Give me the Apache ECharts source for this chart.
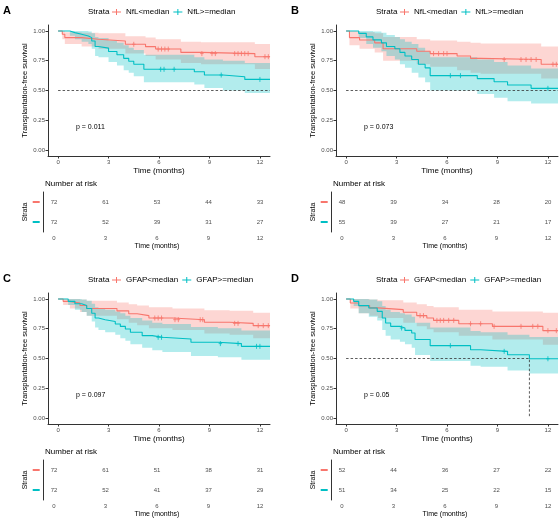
<!DOCTYPE html>
<html>
<head>
<meta charset="utf-8">
<script src="https://cdn.jsdelivr.net/npm/echarts@6/dist/echarts.min.js"></script>
<style>
  html, body { margin: 0; padding: 0; background: #fff; }
  #main { width: 560px; height: 520px; }
</style>
</head>
<body>
<div id="main"></div>
<script>
var RED = '#F8766D', CYAN = '#00BFC4';
var timeTicks = [0, 3, 6, 9, 12];
var survTicks = [0, 0.25, 0.5, 0.75, 1];
var followUp = 12.6;
var nflLabels = ['NfL<median', 'NfL>=median'];
var gfapLabels = ['GFAP<median', 'GFAP>=median'];

// rows: [time, survival, lower CI, upper CI]
var aRed = [[0,1,1,1],[0.25,0.972,0.93,1],[0.4,0.944,0.89,0.99],[1.4,0.93,0.87,0.985],[2.4,0.916,0.85,0.98],
  [4.0,0.888,0.81,0.955],[5.2,0.868,0.79,0.945],[5.8,0.848,0.76,0.93],[7.3,0.82,0.73,0.91],[8.5,0.81,0.72,0.905],[11.7,0.784,0.68,0.89]];
var aCyan = [[0,1,1,1],[0.7,0.986,0.96,1],[1.0,0.972,0.93,1],[1.4,0.958,0.91,1],[1.8,0.944,0.89,0.995],[2.0,0.916,0.85,0.98],
  [2.2,0.87,0.79,0.95],[2.4,0.856,0.78,0.94],[3.0,0.828,0.74,0.92],[3.5,0.80,0.71,0.90],[3.9,0.77,0.67,0.88],[4.2,0.745,0.65,0.86],
  [4.5,0.72,0.62,0.84],[5.1,0.678,0.57,0.80],[8.1,0.658,0.55,0.78],[8.7,0.63,0.52,0.76],[9.8,0.616,0.50,0.75],[11.1,0.593,0.48,0.73]];
var aRedCens = [4.5, 5.95, 6.15, 6.35, 6.55, 8.55, 9.15, 9.35, 10.5, 10.7, 10.9, 11.1, 11.3, 12.3, 12.5];
var aCyanCens = [6.1, 6.3, 6.9, 9.7, 12.0];
var aRisk = [[72, 61, 53, 44, 33], [72, 52, 39, 31, 27]];
var aMedian = [[0, 0.5], [12.6, 0.5]];

var bRed = [[0,1,1,1],[0.2,0.944,0.88,1],[0.8,0.924,0.85,0.99],[1.7,0.90,0.82,0.98],[2.2,0.85,0.75,0.95],
  [4.2,0.83,0.72,0.93],[5.0,0.81,0.70,0.92],[6.6,0.79,0.67,0.91],[7.4,0.77,0.65,0.90],[8.0,0.76,0.64,0.895],[11.6,0.72,0.60,0.87]];
var bCyan = [[0,1,1,1],[0.75,0.98,0.94,1],[1.2,0.95,0.89,1],[1.6,0.925,0.86,0.995],[2.1,0.90,0.83,0.985],[2.4,0.87,0.79,0.965],
  [2.9,0.85,0.76,0.95],[3.2,0.82,0.72,0.93],[3.5,0.79,0.69,0.91],[3.9,0.76,0.65,0.89],[4.3,0.72,0.61,0.86],[4.7,0.69,0.57,0.83],
  [5.0,0.625,0.50,0.78],[7.8,0.60,0.47,0.76],[8.8,0.574,0.44,0.74],[9.6,0.546,0.41,0.71],[11.0,0.518,0.39,0.685]];
var bRedCens = [5.2, 5.5, 5.8, 6.0, 9.4, 10.4, 10.7, 11.0, 11.3, 12.3, 12.5];
var bCyanCens = [6.2, 6.8, 12.0];
var bRisk = [[48, 39, 34, 28, 20], [55, 39, 27, 21, 17]];
var bMedian = [[0, 0.5], [12.6, 0.5]];

var cRed = [[0,1,1,1],[0.3,0.98,0.95,1],[0.7,0.965,0.92,1],[1.3,0.945,0.89,0.995],[1.7,0.92,0.86,0.985],[3.5,0.90,0.83,0.97],
  [4.2,0.876,0.80,0.955],[4.7,0.86,0.78,0.945],[5.4,0.84,0.755,0.93],[6.8,0.826,0.74,0.92],[8.7,0.805,0.71,0.905],
  [10.2,0.795,0.70,0.90],[11.6,0.776,0.67,0.885]];
var cCyan = [[0,1,1,1],[0.6,0.98,0.95,1],[1.0,0.96,0.91,1],[1.4,0.945,0.89,0.995],[1.7,0.92,0.86,0.985],[2.0,0.88,0.81,0.96],
  [2.2,0.84,0.76,0.93],[2.4,0.826,0.74,0.92],[2.8,0.81,0.72,0.91],[3.4,0.79,0.70,0.895],[3.7,0.77,0.67,0.88],[4.0,0.748,0.65,0.86],
  [4.3,0.72,0.62,0.84],[5.0,0.692,0.59,0.82],[5.6,0.678,0.57,0.80],[6.2,0.664,0.555,0.79],[7.9,0.636,0.52,0.765],
  [9.5,0.625,0.51,0.755],[10.9,0.602,0.49,0.735]];
var cRedCens = [5.75, 5.95, 6.15, 6.95, 7.15, 8.45, 8.6, 10.5, 10.7, 11.9, 12.2, 12.5];
var cCyanCens = [5.95, 6.15, 9.65, 10.7, 11.8, 12.0];
var cRisk = [[72, 61, 51, 38, 31], [72, 52, 41, 37, 29]];
var cMedian = [];

var dRed = [[0,1,1,1],[0.25,0.966,0.92,1],[0.75,0.944,0.88,1],[1.4,0.925,0.86,0.995],[1.9,0.91,0.84,0.99],[3.4,0.888,0.80,0.97],
  [4.2,0.86,0.77,0.955],[4.8,0.84,0.745,0.94],[5.2,0.82,0.72,0.93],[6.7,0.792,0.69,0.91],[8.7,0.77,0.66,0.895],[11.7,0.734,0.615,0.885]];
var dCyan = [[0,1,1,1],[0.45,0.98,0.94,1],[0.75,0.944,0.88,1],[1.35,0.924,0.85,0.995],[1.85,0.896,0.82,0.98],[2.15,0.84,0.74,0.94],
  [2.35,0.798,0.69,0.91],[2.65,0.77,0.66,0.89],[3.2,0.756,0.64,0.88],[3.5,0.736,0.62,0.87],[3.9,0.714,0.59,0.85],[4.1,0.66,0.53,0.80],
  [5.0,0.608,0.48,0.76],[7.4,0.574,0.44,0.73],[8.0,0.56,0.43,0.72],[9.6,0.532,0.40,0.70],[10.9,0.498,0.375,0.68]];
var dRedCens = [4.4, 4.6, 5.4, 5.6, 5.8, 6.1, 6.4, 7.4, 8.0, 8.8, 10.4, 11.1, 11.4, 12.0, 12.5];
var dCyanCens = [3.3, 6.2, 9.4, 12.0];
var dRisk = [[52, 44, 36, 27, 22], [51, 34, 25, 22, 15]];
var dMedian = [[0, 0.5], [10.9, 0.5], [10.9, 0]];

var panels = [
  { letter: 'A', red: aRed, cyan: aCyan, cens: [aRedCens, aCyanCens], risk: aRisk, median: aMedian, labels: nflLabels, pval: 'p = 0.011', dx: 0, dy: 0 },
  { letter: 'B', red: bRed, cyan: bCyan, cens: [bRedCens, bCyanCens], risk: bRisk, median: bMedian, labels: nflLabels, pval: 'p = 0.073', dx: 288, dy: 0 },
  { letter: 'C', red: cRed, cyan: cCyan, cens: [cRedCens, cCyanCens], risk: cRisk, median: cMedian, labels: gfapLabels, pval: 'p = 0.097', dx: 0, dy: 268 },
  { letter: 'D', red: dRed, cyan: dCyan, cens: [dRedCens, dCyanCens], risk: dRisk, median: dMedian, labels: gfapLabels, pval: 'p = 0.05', dx: 288, dy: 268 }
];

var FONT = 'Liberation Sans, Arial, sans-serif';
var AXIS_COL = '#333';
var TICK_COL = '#4d4d4d';
var legendIcon = 'path://M0,3 L9,3 L9,4 L0,4 Z M4,0.5 L5,0.5 L5,6.5 L4,6.5 Z';
var censSymbol = 'path://M2,0 L2,6 M0,3 L4,3';

function survAt(rows, t) {
  var s = rows[0][1];
  rows.forEach(function (r) { if (r[0] <= t) s = r[1]; });
  return s;
}
function stepData(rows, f) {
  var d = rows.map(function (r) { return [r[0], f(r)]; });
  d.push([followUp, f(rows[rows.length - 1])]);
  return d;
}
// confidence ribbon as one stepped polygon, placed through the axis scales
function ribbon(rows, col, gi) {
  return {
    type: 'custom', xAxisIndex: gi, yAxisIndex: gi, silent: true, z: 1,
    data: [[0, 1]],
    renderItem: function (params, api) {
      var pts = [], i, x0, x1;
      for (i = 0; i < rows.length; i++) {
        x0 = rows[i][0]; x1 = i + 1 < rows.length ? rows[i + 1][0] : followUp;
        pts.push(api.coord([x0, rows[i][3]]), api.coord([x1, rows[i][3]]));
      }
      for (i = rows.length - 1; i >= 0; i--) {
        x0 = rows[i][0]; x1 = i + 1 < rows.length ? rows[i + 1][0] : followUp;
        pts.push(api.coord([x1, rows[i][2]]), api.coord([x0, rows[i][2]]));
      }
      return { type: 'polygon', shape: { points: pts }, style: { fill: col, opacity: 0.3 } };
    }
  };
}

var option = {
  animation: false,
  backgroundColor: '#fff',
  textStyle: { fontFamily: FONT },
  grid: [], xAxis: [], yAxis: [], series: [], legend: [], title: []
};

panels.forEach(function (p, i) {
  var gp = 2 * i, gt = 2 * i + 1;
  option.grid.push({ left: 48 + p.dx, top: 25 + p.dy, width: 222, height: 131 });
  option.grid.push({ left: 43.7 + p.dx, top: 192 + p.dy, width: 226.6, height: 40 });

  option.xAxis.push({
    type: 'value', gridIndex: gp, min: -0.6, max: 12.6,
    axisLine: { onZero: false, lineStyle: { color: AXIS_COL, width: 1 } },
    axisTick: { customValues: timeTicks, length: 2.5, lineStyle: { color: AXIS_COL } },
    axisLabel: { customValues: timeTicks, fontSize: 6, color: TICK_COL, margin: 3, fontFamily: FONT },
    splitLine: { show: false },
    name: 'Time (months)', nameLocation: 'middle', nameGap: 11,
    nameTextStyle: { fontSize: 8, color: '#000', fontFamily: FONT }
  });
  option.yAxis.push({
    type: 'value', gridIndex: gp, min: -0.05, max: 1.05,
    axisLine: { show: true, onZero: false, lineStyle: { color: AXIS_COL, width: 1 } },
    axisTick: { show: true, customValues: survTicks, length: 2.5, lineStyle: { color: AXIS_COL } },
    axisLabel: { customValues: survTicks, fontSize: 6, color: TICK_COL, margin: 3, fontFamily: FONT,
      formatter: function (v) { return v.toFixed(2); } },
    splitLine: { show: false },
    name: 'Transplantation-free survival', nameLocation: 'middle', nameGap: 19,
    nameTextStyle: { fontSize: 7.5, color: '#000', fontFamily: FONT }
  });
  option.xAxis.push({
    type: 'value', gridIndex: gt, min: -0.6, max: 12.6,
    axisLine: { onZero: false, lineStyle: { color: AXIS_COL, width: 1 } },
    axisTick: { customValues: timeTicks, length: 2.5, lineStyle: { color: AXIS_COL } },
    axisLabel: { customValues: timeTicks, fontSize: 6, color: TICK_COL, margin: 3, fontFamily: FONT },
    splitLine: { show: false },
    name: 'Time (months)', nameLocation: 'middle', nameGap: 11,
    nameTextStyle: { fontSize: 7, color: '#000', fontFamily: FONT }
  });
  option.yAxis.push({
    type: 'category', gridIndex: gt, data: ['c', 'r'],
    axisLine: { show: true, onZero: false, lineStyle: { color: AXIS_COL, width: 1 } },
    axisTick: { show: false },
    axisLabel: { margin: 4, formatter: function (v) { return v === 'r' ? '{r|}' : '{c|}'; },
      rich: { r: { width: 7, height: 2, backgroundColor: RED }, c: { width: 7, height: 2, backgroundColor: CYAN } } },
    name: 'Strata', nameLocation: 'middle', nameGap: 14,
    nameTextStyle: { fontSize: 7, color: '#000', fontFamily: FONT }
  });

  option.series.push(ribbon(p.red, RED, gp));
  option.series.push(ribbon(p.cyan, CYAN, gp));

  if (p.median.length) {
    option.series.push({
      type: 'line', xAxisIndex: gp, yAxisIndex: gp, data: p.median, symbol: 'none', silent: true, z: 2,
      lineStyle: { color: '#333', width: 0.8, type: [2.5, 2] }
    });
  }

  [[p.red, RED, 'r', p.cens[0], p.labels[0], p.risk[0]], [p.cyan, CYAN, 'c', p.cens[1], p.labels[1], p.risk[1]]].forEach(function (g) {
    var rows = g[0], col = g[1];
    option.series.push({
      name: g[4], type: 'line', xAxisIndex: gp, yAxisIndex: gp, step: 'end',
      data: stepData(rows, function (r) { return r[1]; }),
      symbol: 'none', lineStyle: { color: col, width: 1.1 }, itemStyle: { color: col }, z: 3
    });
    option.series.push({
      type: 'scatter', xAxisIndex: gp, yAxisIndex: gp, silent: true, z: 4,
      data: g[3].map(function (t) { return [t, survAt(rows, t)]; }),
      symbol: censSymbol, symbolSize: [3.5, 5],
      itemStyle: { color: col, borderColor: col, borderWidth: 0.8, opacity: 1 }
    });
    option.series.push({
      type: 'scatter', xAxisIndex: gt, yAxisIndex: gt, silent: true,
      data: timeTicks.map(function (t, k) { return [t, g[2], g[5][k]]; }),
      symbolSize: 0.1, itemStyle: { color: 'transparent' },
      label: { show: true, position: 'inside', fontSize: 6, color: '#222', fontFamily: FONT,
        formatter: function (q) { return q.value[2]; } }
    });
  });

  option.legend.push({
    data: [{ name: p.labels[0], icon: legendIcon }, { name: p.labels[1], icon: legendIcon }],
    left: 112 + p.dx, top: 8 + p.dy, padding: 0, itemWidth: 9, itemHeight: 7, itemGap: 4,
    selectedMode: false, textStyle: { fontSize: 8, color: '#000', fontFamily: FONT }
  });

  option.title.push({ text: p.letter, left: 3 + p.dx, top: 5 + p.dy, padding: 0,
    textStyle: { fontSize: 11, fontWeight: 'bold', color: '#000', fontFamily: FONT } });
  option.title.push({ text: 'Strata', left: 88 + p.dx, top: 8 + p.dy, padding: 0,
    textStyle: { fontSize: 8, fontWeight: 'normal', color: '#000', fontFamily: FONT } });
  option.title.push({ text: 'Number at risk', left: 45 + p.dx, top: 180 + p.dy, padding: 0,
    textStyle: { fontSize: 8, fontWeight: 'normal', color: '#000', fontFamily: FONT } });
  option.title.push({ text: p.pval, left: 76 + p.dx, top: 123.5 + p.dy, padding: 0,
    textStyle: { fontSize: 7, fontWeight: 'normal', color: '#000', fontFamily: FONT } });
});

var chart = echarts.init(document.getElementById('main'));
chart.setOption(option);
</script>
</body>
</html>
